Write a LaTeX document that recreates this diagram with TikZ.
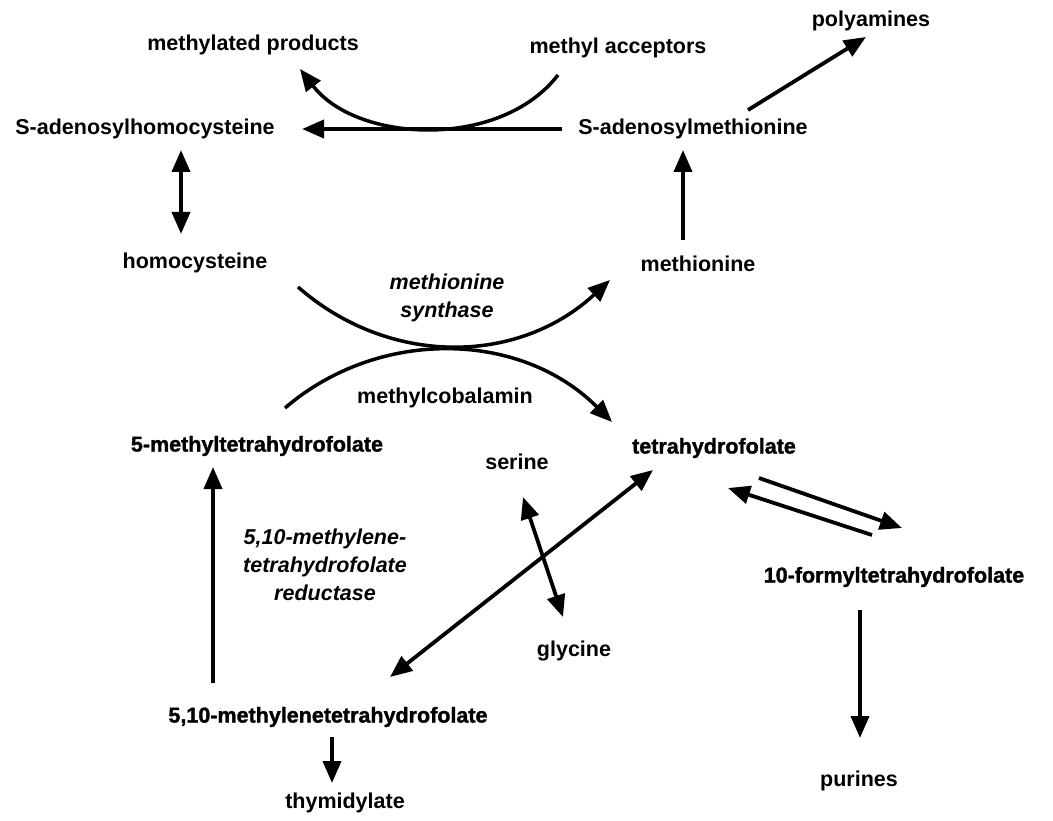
\documentclass[tikz,border=0pt]{standalone}
\usepackage{fontspec}
\setmainfont{Liberation Sans}
\newfontfamily\heavyfont{Liberation Sans Bold}[FakeBold=1.5]
\usetikzlibrary{arrows.meta,calc}
\begin{document}
\begin{tikzpicture}[x=1pt,y=-1pt,
  lbl/.style={inner sep=0pt,font=\fontsize{21.5}{26}\selectfont\bfseries},
  heavy/.style={inner sep=0pt,font=\fontsize{21.5}{26}\selectfont\heavyfont},
  ital/.style={inner sep=0pt,align=center,font=\fontsize{21.5}{28}\selectfont\bfseries\itshape},
  arr/.style={line width=3.8pt,-{Triangle[length=22pt,width=18pt]}},
  biarr/.style={line width=3.8pt,{Triangle[length=22pt,width=18pt]}-{Triangle[length=22pt,width=18pt]}},
  curve/.style={line width=3.5pt,-{Triangle[length=22pt,width=18pt]}}]
\useasboundingbox (0,0) rectangle (1053,821);
\fill[white] (0,0) rectangle (1053,821);

% metabolites
\node[lbl] (mp)   at (253,45)  {methylated products};
\node[lbl] (ma)   at (618,48)  {methyl acceptors};
\node[lbl] (poly) at (871,21)  {polyamines};
\node[lbl] (sah)  at (145,129) {S-adenosylhomocysteine};
\node[lbl] (sam)  at (693,129) {S-adenosylmethionine};
\node[lbl] (hcy)  at (195,263) {homocysteine};
\node[lbl] (met)  at (698,264) {methionine};
\node[ital] (ms)  at (447,298) {methionine\\synthase};
\node[lbl] (mcb)  at (445,398) {methylcobalamin};
\node[heavy] (mthf) at (257,446) {5-methyltetrahydrofolate};
\node[lbl] (ser)  at (517,462) {serine};
\node[heavy] (thf) at (714,448) {tetrahydrofolate};
\node[ital] (red) at (325,565) {5,10-methylene-\\tetrahydrofolate\\reductase};
\node[lbl] (gly)  at (574,651) {glycine};
\node[heavy] (fthf) at (894,577) {10-formyltetrahydrofolate};
\node[heavy] (mlthf) at (328,717) {5,10-methylenetetrahydrofolate};
\node[lbl] (thy)  at (345,803) {thymidylate};
\node[lbl] (pur)  at (859,781) {purines};

% methylation cycle
\draw[arr] ($(sam)+(-131,0)$) -- ($(sah)+(157,0)$);
\draw[curve] ($(ma)+(-60,27)$) .. controls ($(ma)+(-118,102)$) and ($(mp)+(104,98)$) .. ($(mp)+(47,24)$);
\draw[arr] ($(sam)+(55,-19)$) -- ($(poly)+(-5,16)$);
\draw[arr] ($(met)+(-15,-24)$) -- ($(sam)+(-10,21)$);
\draw[biarr] ($(sah)+(36,21)$) -- ($(hcy)+(-14,-29)$);

% methionine synthase
\draw[curve] ($(hcy)+(103,24)$) .. controls (388,366) and (517,366) .. ($(met)+(-88,16)$);
\draw[curve] ($(mthf)+(28,-38)$) .. controls (378,328) and (520,330) .. ($(thf)+(-102,-26)$);

% folate interconversions
\draw[arr] ($(mlthf)+(-115,-34)$) -- ($(mthf)+(-44,21)$);
\draw[biarr] ($(mlthf)+(62,-40)$) -- ($(thf)+(-61,22)$);
\draw[biarr] ($(ser)+(6,35)$) -- ($(gly)+(-11,-34)$);
\draw[arr] ($(thf)+(45,30)$) -- ($(fthf)+(8,-49)$);
\draw[arr] ($(fthf)+(-22,-42)$) -- ($(thf)+(14,40)$);
\draw[arr] ($(fthf)+(-34,33)$) -- ($(pur)+(1,-43)$);
\draw[arr] ($(mlthf)+(4,20)$) -- ($(thy)+(-13,-20)$);
\end{tikzpicture}
\end{document}
